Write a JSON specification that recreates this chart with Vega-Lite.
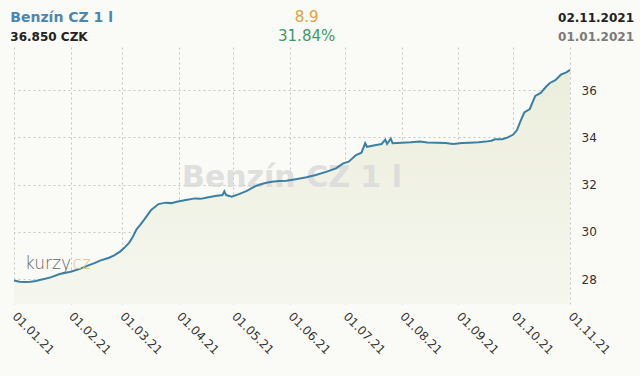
{
  "$schema": "https://vega.github.io/schema/vega-lite/v6.json",
  "autosize": {"type": "none"},
  "width": 556,
  "height": 257,
  "padding": {"left": 14, "top": 47, "right": 70, "bottom": 72},
  "background": "#fafaf6",
  "config": {
    "view": {"stroke": null},
    "axis": {
      "labelFont": "DejaVu Sans",
      "labelFontSize": 12,
      "labelColor": "#333333",
      "gridColor": "#c4c4c4",
      "gridDash": [2, 3],
      "gridWidth": 1,
      "ticks": false,
      "domain": false,
      "title": null
    },
    "axisX": {
      "labelExpr": "utcFormat(datum.value, '%d.%m.%y')",
      "labelAngle": 45,
      "labelAlign": "left",
      "labelBaseline": "middle",
      "labelPadding": 10,
      "labelOverlap": false,
      "labelFlush": false
    }
  },
  "data": {
    "values": [
      {"date": "2021-01-01", "price": 27.95},
      {"date": "2021-01-04", "price": 27.90},
      {"date": "2021-01-07", "price": 27.88},
      {"date": "2021-01-10", "price": 27.90},
      {"date": "2021-01-13", "price": 27.93},
      {"date": "2021-01-15", "price": 27.97},
      {"date": "2021-01-18", "price": 28.02},
      {"date": "2021-01-21", "price": 28.08},
      {"date": "2021-01-26", "price": 28.22},
      {"date": "2021-02-01", "price": 28.32},
      {"date": "2021-02-06", "price": 28.44},
      {"date": "2021-02-11", "price": 28.60},
      {"date": "2021-02-14", "price": 28.68},
      {"date": "2021-02-17", "price": 28.79},
      {"date": "2021-02-22", "price": 28.91},
      {"date": "2021-02-25", "price": 29.02},
      {"date": "2021-02-28", "price": 29.17},
      {"date": "2021-03-03", "price": 29.38},
      {"date": "2021-03-05", "price": 29.55},
      {"date": "2021-03-07", "price": 29.80},
      {"date": "2021-03-09", "price": 30.11},
      {"date": "2021-03-11", "price": 30.30},
      {"date": "2021-03-13", "price": 30.50},
      {"date": "2021-03-17", "price": 30.93},
      {"date": "2021-03-21", "price": 31.18},
      {"date": "2021-03-25", "price": 31.24},
      {"date": "2021-03-28", "price": 31.22},
      {"date": "2021-03-31", "price": 31.28},
      {"date": "2021-04-05", "price": 31.35},
      {"date": "2021-04-10", "price": 31.42},
      {"date": "2021-04-13", "price": 31.40},
      {"date": "2021-04-16", "price": 31.45},
      {"date": "2021-04-21", "price": 31.52},
      {"date": "2021-04-25", "price": 31.56},
      {"date": "2021-04-26", "price": 31.72},
      {"date": "2021-04-27", "price": 31.56},
      {"date": "2021-04-30", "price": 31.49},
      {"date": "2021-05-04", "price": 31.60},
      {"date": "2021-05-08", "price": 31.73},
      {"date": "2021-05-13", "price": 31.94},
      {"date": "2021-05-16", "price": 32.02},
      {"date": "2021-05-19", "price": 32.08},
      {"date": "2021-05-22", "price": 32.12},
      {"date": "2021-05-26", "price": 32.15},
      {"date": "2021-05-30", "price": 32.17},
      {"date": "2021-06-04", "price": 32.23},
      {"date": "2021-06-10", "price": 32.31},
      {"date": "2021-06-15", "price": 32.41},
      {"date": "2021-06-21", "price": 32.55},
      {"date": "2021-06-26", "price": 32.69},
      {"date": "2021-06-30", "price": 32.90},
      {"date": "2021-07-03", "price": 32.97},
      {"date": "2021-07-07", "price": 33.25},
      {"date": "2021-07-10", "price": 33.35},
      {"date": "2021-07-12", "price": 33.75},
      {"date": "2021-07-13", "price": 33.60},
      {"date": "2021-07-18", "price": 33.68},
      {"date": "2021-07-21", "price": 33.72},
      {"date": "2021-07-23", "price": 33.90},
      {"date": "2021-07-24", "price": 33.72},
      {"date": "2021-07-26", "price": 33.95},
      {"date": "2021-07-27", "price": 33.75},
      {"date": "2021-08-01", "price": 33.77},
      {"date": "2021-08-06", "price": 33.79},
      {"date": "2021-08-11", "price": 33.82},
      {"date": "2021-08-15", "price": 33.78},
      {"date": "2021-08-20", "price": 33.77},
      {"date": "2021-08-25", "price": 33.76},
      {"date": "2021-08-29", "price": 33.72},
      {"date": "2021-09-03", "price": 33.76},
      {"date": "2021-09-07", "price": 33.77},
      {"date": "2021-09-12", "price": 33.79},
      {"date": "2021-09-16", "price": 33.82},
      {"date": "2021-09-19", "price": 33.86},
      {"date": "2021-09-21", "price": 33.92},
      {"date": "2021-09-25", "price": 33.92},
      {"date": "2021-09-28", "price": 34.00},
      {"date": "2021-10-01", "price": 34.12},
      {"date": "2021-10-03", "price": 34.31},
      {"date": "2021-10-05", "price": 34.70},
      {"date": "2021-10-07", "price": 35.05},
      {"date": "2021-10-10", "price": 35.20},
      {"date": "2021-10-13", "price": 35.75},
      {"date": "2021-10-16", "price": 35.88},
      {"date": "2021-10-19", "price": 36.15},
      {"date": "2021-10-21", "price": 36.30},
      {"date": "2021-10-24", "price": 36.42},
      {"date": "2021-10-27", "price": 36.65},
      {"date": "2021-10-30", "price": 36.75},
      {"date": "2021-11-01", "price": 36.85}
    ]
  },
  "layer": [
    {
      "mark": {
        "type": "area",
        "color": {
          "gradient": "linear",
          "x1": 0, "y1": 0, "x2": 0, "y2": 1,
          "stops": [
            {"offset": 0, "color": "#eceedc"},
            {"offset": 1, "color": "#f5f6ee"}
          ]
        }
      },
      "encoding": {
        "x": {
          "field": "date",
          "type": "temporal",
          "scale": {
            "type": "utc",
            "domain": [1609459200000, 1635724800000]
          },
          "axis": {
            "values": [1609459200000, 1612137600000, 1614556800000, 1617235200000, 1619827200000, 1622505600000, 1625097600000, 1627776000000, 1630454400000, 1633046400000, 1635724800000],
            "labelExpr": "utcFormat(datum.value, '%d.%m.%y')"
          }
        },
        "y": {
          "field": "price",
          "type": "quantitative",
          "scale": {"domain": [26.955, 37.82], "zero": false, "nice": false},
          "axis": {
            "orient": "right",
            "values": [28, 30, 32, 34, 36],
            "labelPadding": 11
          }
        },
        "y2": {"datum": 26.955}
      }
    },
    {
      "data": {"values": [{"label": "Benzín CZ 1 l"}]},
      "mark": {
        "type": "text",
        "font": "DejaVu Sans",
        "fontSize": 30,
        "fontWeight": "bold",
        "color": "#d9d9d9",
        "opacity": 0.8,
        "align": "center",
        "baseline": "alphabetic"
      },
      "encoding": {
        "text": {"field": "label"},
        "x": {"datum": 1622592000000, "type": "temporal"},
        "y": {"datum": 31.9, "type": "quantitative"}
      }
    },
    {
      "mark": {"type": "line", "color": "#3b7fa2", "strokeWidth": 2},
      "encoding": {
        "x": {"field": "date", "type": "temporal"},
        "y": {"field": "price", "type": "quantitative"}
      }
    },
    {
      "data": {"values": [{"label": "kurzy"}]},
      "mark": {
        "type": "text",
        "font": "DejaVu Sans",
        "fontSize": 17,
        "fontWeight": 200,
        "color": "#666666",
        "align": "left",
        "baseline": "alphabetic"
      },
      "encoding": {
        "text": {"field": "label"},
        "x": {"datum": 1609977600000, "type": "temporal"},
        "y": {"datum": 28.435, "type": "quantitative"}
      }
    },
    {
      "data": {"values": [{"label": "cz"}]},
      "mark": {
        "type": "text",
        "font": "DejaVu Sans",
        "fontSize": 17,
        "fontWeight": 200,
        "color": "#e3c27c",
        "align": "left",
        "baseline": "alphabetic"
      },
      "encoding": {
        "text": {"field": "label"},
        "x": {"datum": 1612224000000, "type": "temporal"},
        "y": {"datum": 28.435, "type": "quantitative"}
      }
    },
    {
      "data": {"values": [{"label": "Benzín CZ 1 l"}]},
      "mark": {
        "type": "text",
        "font": "DejaVu Sans",
        "fontSize": 14,
        "fontWeight": "bold",
        "color": "#4a86b0",
        "align": "left",
        "baseline": "alphabetic"
      },
      "encoding": {
        "text": {"field": "label"},
        "x": {"datum": 1609286400000, "type": "temporal"},
        "y": {"datum": 38.877, "type": "quantitative"}
      }
    },
    {
      "data": {"values": [{"label": "36.850 CZK"}]},
      "mark": {
        "type": "text",
        "font": "DejaVu Sans",
        "fontSize": 12,
        "fontWeight": "bold",
        "color": "#222222",
        "align": "left",
        "baseline": "alphabetic"
      },
      "encoding": {
        "text": {"field": "label"},
        "x": {"datum": 1609286400000, "type": "temporal"},
        "y": {"datum": 38.074, "type": "quantitative"}
      }
    },
    {
      "data": {"values": [{"label": "8.9"}]},
      "mark": {
        "type": "text",
        "font": "DejaVu Sans",
        "fontSize": 15,
        "color": "#e2a23a",
        "align": "center",
        "baseline": "alphabetic"
      },
      "encoding": {
        "text": {"field": "label"},
        "x": {"datum": 1623283200000, "type": "temporal"},
        "y": {"datum": 38.877, "type": "quantitative"}
      }
    },
    {
      "data": {"values": [{"label": "31.84%"}]},
      "mark": {
        "type": "text",
        "font": "DejaVu Sans",
        "fontSize": 15,
        "color": "#3a9c6c",
        "align": "center",
        "baseline": "alphabetic"
      },
      "encoding": {
        "text": {"field": "label"},
        "x": {"datum": 1623283200000, "type": "temporal"},
        "y": {"datum": 38.074, "type": "quantitative"}
      }
    },
    {
      "data": {"values": [{"label": "02.11.2021"}]},
      "mark": {
        "type": "text",
        "font": "DejaVu Sans",
        "fontSize": 12,
        "fontWeight": "bold",
        "color": "#222222",
        "align": "right",
        "baseline": "alphabetic"
      },
      "encoding": {
        "text": {"field": "label"},
        "x": {"datum": 1638748800000, "type": "temporal"},
        "y": {"datum": 38.877, "type": "quantitative"}
      }
    },
    {
      "data": {"values": [{"label": "01.01.2021"}]},
      "mark": {
        "type": "text",
        "font": "DejaVu Sans",
        "fontSize": 12,
        "fontWeight": "bold",
        "color": "#7a7a7a",
        "align": "right",
        "baseline": "alphabetic"
      },
      "encoding": {
        "text": {"field": "label"},
        "x": {"datum": 1638748800000, "type": "temporal"},
        "y": {"datum": 38.074, "type": "quantitative"}
      }
    }
  ]
}
